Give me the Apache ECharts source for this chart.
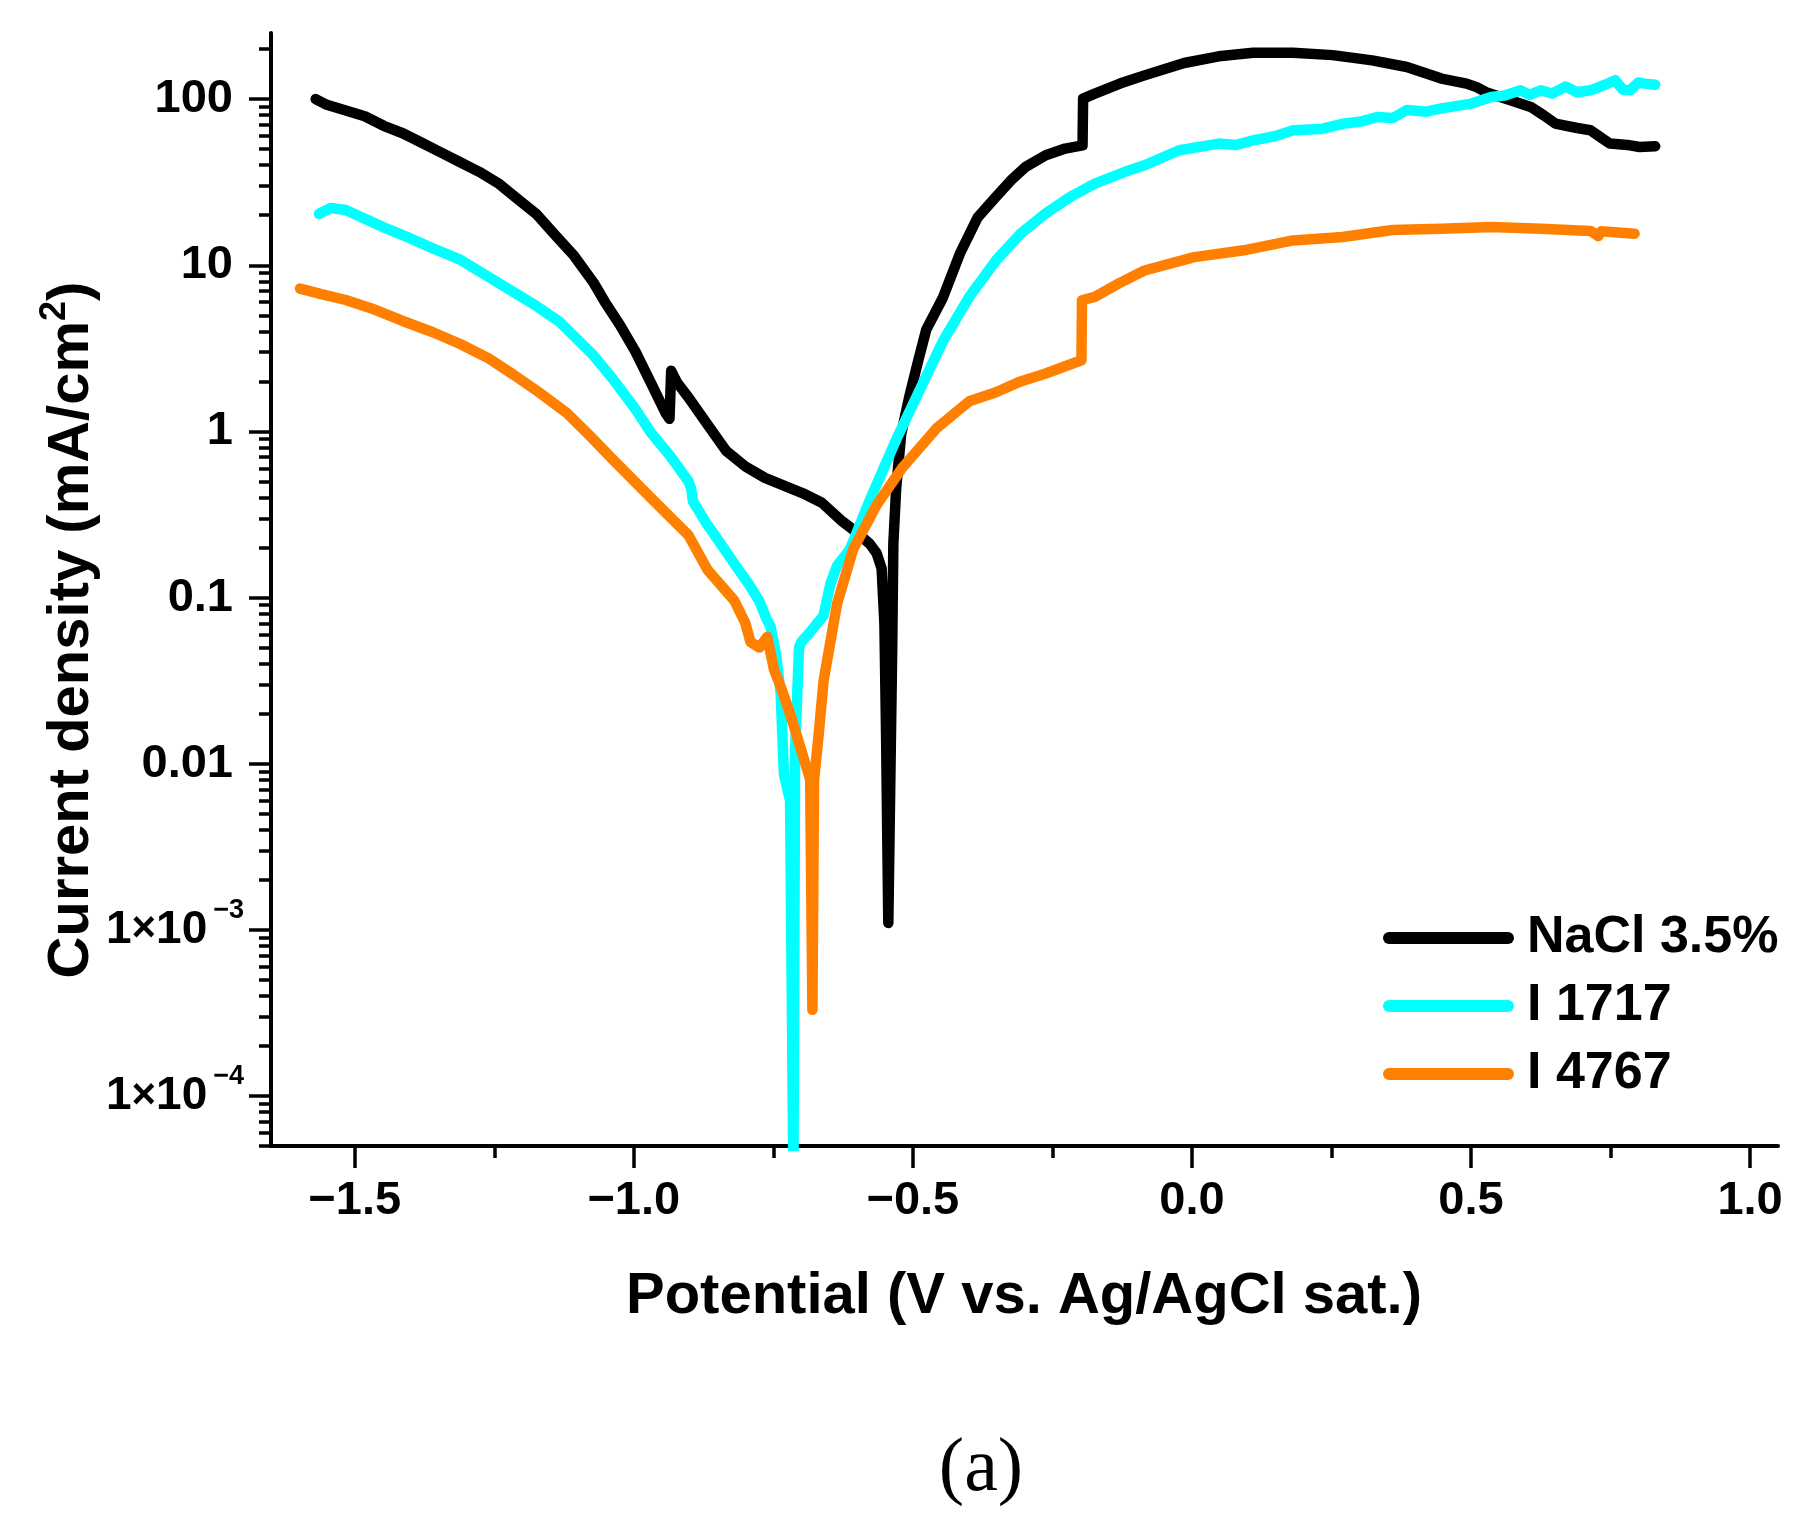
<!DOCTYPE html>
<html>
<head>
<meta charset="utf-8">
<script src="https://cdn.jsdelivr.net/npm/echarts@6/dist/echarts.min.js"></script>
<style>
html,body{margin:0;padding:0;background:#ffffff;}
#chart{width:1812px;height:1532px;}
</style>
</head>
<body>
<div id="chart"></div>
<script>
// ---------------- data ----------------
const seriesNames = ['NaCl 3.5%', 'I 1717', 'I 4767'];

const naclX = [-1.570,-1.550,-1.516,-1.482,-1.448,-1.413,-1.379,-1.345,-1.311,-1.277,-1.243,-1.209,-1.175,-1.141,-1.107,-1.072,-1.052,-1.025,-0.997,-0.970,-0.943,-0.936,-0.933,-0.923,-0.902,-0.868,-0.834,-0.800,-0.765,-0.731,-0.697,-0.663,-0.629,-0.602,-0.577,-0.565,-0.556,-0.551,-0.548,-0.544,-0.540,-0.537,-0.535,-0.530,-0.521,-0.506,-0.490,-0.476,-0.446,-0.415,-0.384,-0.351,-0.324,-0.298,-0.262,-0.227,-0.196,-0.195,-0.174,-0.129,-0.085,-0.014,0.048,0.110,0.181,0.252,0.323,0.385,0.447,0.492,0.510,0.527,0.572,0.607,0.630,0.651,0.690,0.714,0.735,0.749,0.780,0.802,0.830];
const naclY = [100,92.4,85.5,78.9,69.1,62.1,54.4,47.6,41.7,36.5,31.2,25.2,20.4,15.2,11.4,7.85,6.03,4.38,3.02,1.98,1.29,1.19,2.32,1.98,1.60,1.10,0.76,0.615,0.525,0.472,0.424,0.372,0.292,0.249,0.21,0.185,0.15,0.07,0.015,0.0011,0.01,0.05,0.21,0.45,0.96,1.64,2.7,4.1,6.4,11.9,19.4,25.8,32.5,39.1,45.9,50.4,52.7,100.7,108,124,139,165,181,190,190,184,171,156,133,124,118,110,98,89.7,80,71.3,67,65,58,54,53,51.5,52];

const i1717X = [-1.564,-1.543,-1.516,-1.448,-1.400,-1.359,-1.311,-1.243,-1.175,-1.134,-1.072,-1.038,-0.997,-0.970,-0.936,-0.902,-0.897,-0.894,-0.870,-0.844,-0.820,-0.793,-0.775,-0.762,-0.755,-0.745,-0.737,-0.731,-0.720,-0.714,-0.711,-0.704,-0.700,-0.684,-0.660,-0.648,-0.636,-0.613,-0.577,-0.530,-0.488,-0.446,-0.399,-0.351,-0.307,-0.262,-0.218,-0.174,-0.120,-0.085,-0.023,0.048,0.080,0.110,0.150,0.181,0.230,0.270,0.300,0.332,0.360,0.385,0.420,0.447,0.475,0.501,0.536,0.560,0.589,0.605,0.625,0.645,0.669,0.690,0.714,0.740,0.758,0.772,0.785,0.800,0.811,0.830];
const i1717Y = [20.4,22.1,21.5,16.9,14.5,12.6,10.8,7.85,5.7,4.6,2.86,2.08,1.36,0.99,0.72,0.50,0.45,0.38,0.28,0.21,0.16,0.119,0.095,0.074,0.067,0.045,0.027,0.0086,0.006,0.00003,0.012,0.05,0.054,0.062,0.078,0.12,0.155,0.195,0.387,0.89,1.77,3.5,6.45,10.7,15.5,20.5,25.8,31,36.5,40,49.2,54,53,56.5,60,65,66,71,73,78,77,86,84,88,91,94,103,105,113,106,113,108,119,110,113,122,130,114,113,126,124,122];

const i4767X = [-1.598,-1.560,-1.516,-1.470,-1.414,-1.360,-1.311,-1.260,-1.216,-1.170,-1.120,-1.080,-1.038,-0.970,-0.902,-0.868,-0.820,-0.800,-0.791,-0.775,-0.761,-0.749,-0.735,-0.720,-0.696,-0.684,-0.680,-0.677,-0.669,-0.660,-0.636,-0.607,-0.565,-0.518,-0.458,-0.399,-0.351,-0.307,-0.262,-0.198,-0.197,-0.174,-0.130,-0.085,0.004,0.093,0.181,0.270,0.359,0.447,0.536,0.625,0.714,0.728,0.733,0.793];
const i4767Y = [7.24,6.7,6.18,5.5,4.62,3.95,3.36,2.75,2.20,1.72,1.29,0.95,0.68,0.40,0.237,0.147,0.096,0.070,0.054,0.050,0.058,0.037,0.028,0.020,0.0109,0.0080,0.00033,0.0080,0.0147,0.0315,0.091,0.195,0.36,0.61,1.04,1.52,1.72,2.0,2.23,2.68,6.16,6.45,7.8,9.3,11.2,12.3,14.1,14.8,16.3,16.6,17.0,16.6,16.1,15.0,16.0,15.5];

const xMajorTicks = [-1.5, -1.0, -0.5, 0.0, 0.5, 1.0];
const xMajorLabels = ['\u22121.5', '\u22121.0', '\u22120.5', '0.0', '0.5', '1.0'];
const xMinorTicks = [-1.25, -0.75, -0.25, 0.25, 0.75];

const yMajorTicks = [1e-4, 1e-3, 0.01, 0.1, 1, 10, 100];
const yMajorLabels = ['{m|1}{x|\u00d7}{m|10}{s|\u22124}', '{m|1}{x|\u00d7}{m|10}{s|\u22123}', '{p|0.01}', '{p|0.1}', '{p|1}', '{p|10}', '{p|100}'];
const yMinorTicks = [5e-5,6e-5,7e-5,8e-5,9e-5,
  2e-4,3e-4,4e-4,5e-4,6e-4,7e-4,8e-4,9e-4,
  2e-3,3e-3,4e-3,5e-3,6e-3,7e-3,8e-3,9e-3,
  0.02,0.03,0.04,0.05,0.06,0.07,0.08,0.09,
  0.2,0.3,0.4,0.5,0.6,0.7,0.8,0.9,
  2,3,4,5,6,7,8,9,
  20,30,40,50,60,70,80,90,
  200];

// ---------------- chart ----------------
const FF = "'Liberation Sans', Arial, Helvetica, sans-serif";
const colors = ['#000000', '#00ffff', '#ff8000'];
const xs = [naclX, i1717X, i4767X];
const ys = [naclY, i1717Y, i4767Y];

function nearestLabel(v, ticks, labels, isLog) {
  let best = 0, bd = Infinity;
  for (let i = 0; i < ticks.length; i++) {
    const d = isLog ? Math.abs(Math.log10(v) - Math.log10(ticks[i])) : Math.abs(v - ticks[i]);
    if (d < bd) { bd = d; best = i; }
  }
  return labels[best];
}

const X_MIN = -1.65, X_MAX = 1.05, Y_MIN = 5e-5, Y_MAX = 250;
const LBL = {fontWeight: 'bold', fontFamily: FF, color: '#000'};

const chart = echarts.init(document.getElementById('chart'), null, {renderer: 'canvas'});
const option = {
  animation: false,
  backgroundColor: '#ffffff',
  color: colors,
  grid: {left: 271, right: 34, top: 33, bottom: 386, containLabel: false},
  xAxis: [{
    type: 'value', min: X_MIN, max: X_MAX, position: 'bottom',
    axisLine: {show: true, onZero: false, lineStyle: {color: '#000', width: 4}},
    axisTick: {show: true, inside: false, length: 22, lineStyle: {color: '#000', width: 3.5}, customValues: xMajorTicks},
    axisLabel: {show: true, customValues: xMajorTicks, margin: 32, color: '#000', fontSize: 47, fontWeight: 'bold', fontFamily: FF,
      formatter: v => nearestLabel(v, xMajorTicks, xMajorLabels, false)},
    splitLine: {show: false}
  }, {
    type: 'value', min: X_MIN, max: X_MAX, position: 'bottom',
    axisLine: {show: false, onZero: false},
    axisTick: {show: true, inside: false, length: 12, lineStyle: {color: '#000', width: 3.5}, customValues: xMinorTicks},
    axisLabel: {show: false},
    splitLine: {show: false}
  }],
  yAxis: [{
    type: 'log', logBase: 10, min: Y_MIN, max: Y_MAX, position: 'left',
    axisLine: {show: true, onZero: false, lineStyle: {color: '#000', width: 4}},
    axisTick: {show: true, inside: false, length: 22, lineStyle: {color: '#000', width: 3.5}, customValues: yMajorTicks},
    axisLabel: {show: true, customValues: yMajorTicks, margin: 27, color: '#000', fontSize: 47, fontWeight: 'bold', fontFamily: FF,
      formatter: v => nearestLabel(v, yMajorTicks, yMajorLabels, true),
      rich: {
        p: Object.assign({fontSize: 47, lineHeight: 56, padding: [0, 11, 0, 0]}, LBL),
        m: Object.assign({fontSize: 46, lineHeight: 66}, LBL),
        x: Object.assign({fontSize: 42, lineHeight: 66}, LBL),
        s: Object.assign({fontSize: 27, lineHeight: 28, verticalAlign: 'top', padding: [0, 0, 0, 6]}, LBL)
      }},
    splitLine: {show: false}
  }, {
    type: 'log', logBase: 10, min: Y_MIN, max: Y_MAX, position: 'left',
    axisLine: {show: false, onZero: false},
    axisTick: {show: true, inside: false, length: 12, lineStyle: {color: '#000', width: 3.5}, customValues: yMinorTicks},
    axisLabel: {show: false},
    splitLine: {show: false}
  }],
  legend: {
    show: true, orient: 'vertical', left: 1383, top: 909, padding: 0,
    itemWidth: 131, itemHeight: 12, itemGap: 10,
    icon: 'path://M6,0 H125 A6,6 0 0 1 125,12 H6 A6,6 0 0 1 6,0 Z',
    itemStyle: {borderWidth: 0},
    textStyle: {fontSize: 52, fontWeight: 'bold', color: '#000', fontFamily: FF, lineHeight: 58, padding: [0, 0, 0, 8]},
    data: seriesNames
  },
  graphic: [
    {type: 'text', x: 1024, y: 1297, silent: true,
      style: {text: 'Potential (V vs. Ag/AgCl sat.)', fontSize: 58, fontWeight: 'bold', fontFamily: FF, fill: '#000', align: 'center', verticalAlign: 'middle'}},
    {type: 'text', x: 72, y: 630, rotation: Math.PI / 2, silent: true,
      style: {text: '{t|Current density (mA/cm}{s|2}{t|)}', align: 'center', verticalAlign: 'middle',
        rich: {
          t: {fontSize: 58, fontWeight: 'bold', fontFamily: FF, fill: '#000', lineHeight: 70},
          s: {fontSize: 36, fontWeight: 'bold', fontFamily: FF, fill: '#000', lineHeight: 36, verticalAlign: 'top'}
        }}},
    {type: 'text', x: 981, y: 1470, silent: true,
      style: {text: '(a)', fontSize: 76, fontFamily: "'Liberation Serif', 'Times New Roman', serif", fill: '#000', align: 'center', verticalAlign: 'middle'}}
  ],
  series: seriesNames.map((name, k) => ({
    name: name, type: 'line', xAxisIndex: 0, yAxisIndex: 0,
    data: xs[k].map((x, i) => [x, ys[k][i]]),
    showSymbol: false, symbol: 'none', smooth: false, clip: true,
    itemStyle: {color: colors[k]},
    lineStyle: {color: colors[k], width: 10.5, cap: 'round', join: 'round'},
    z: 2 + k
  }))
};
chart.setOption(option);
</script>
</body>
</html>
